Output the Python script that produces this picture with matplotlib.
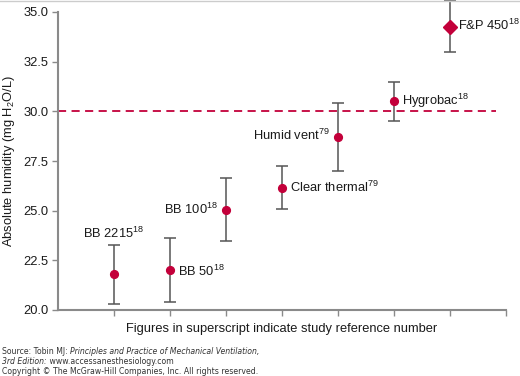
import matplotlib
matplotlib.use("Agg")
import matplotlib.pyplot as plt
from matplotlib.lines import Line2D
from matplotlib.transforms import offset_copy

plt.rcParams['font.family'] = ['Liberation Sans', 'DejaVu Sans']
plt.rcParams['mathtext.fontset'] = 'custom'
plt.rcParams['mathtext.rm'] = 'Liberation Sans'
plt.rcParams['mathtext.it'] = 'Liberation Sans:italic'

# Data
labels = ["BB 2215", "BB 50", "BB 100", "Clear thermal", "Humid vent", "Hygrobac", "F&P 450"]
refs = ["18", "18", "18", "79", "79", "18", "18"]
positions = [1, 2, 3, 4, 5, 6, 7]
means = [21.8, 22.0, 25.05, 26.15, 28.7, 30.5, 34.27]
errors = [1.48, 1.6, 1.6, 1.08, 1.72, 0.98, 1.3]
markers = ["o", "o", "o", "o", "o", "o", "D"]
threshold = 30.0
yticks = [20.0, 22.5, 25.0, 27.5, 30.0, 32.5, 35.0]

RED = "#c3003a"
GREY = "#555555"
SPINE = "#8a8a8a"

fig = plt.figure(figsize=(5.2, 3.76), dpi=100)
ax = fig.add_axes([58/520, 1-310/376, (506-58)/520, (310-12)/376])

ax.axhline(threshold, xmin=0, xmax=7.82/8, color=RED, lw=1.3, ls=(0, (4.5, 3)), zorder=1)

for x, m, e, mk in zip(positions, means, errors, markers):
    ax.errorbar([x], [m], yerr=[e], fmt='none', ecolor=GREY, elinewidth=1.1,
                capsize=4, capthick=1.1, clip_on=False, zorder=2)
    ax.plot([x], [m], marker=mk, color=RED, ms=(7.2 if mk == "D" else 5.6),
            ls='none', clip_on=False, zorder=3)

fs = 9.3
place = [
    (0, 3, 'center', 'bottom'),
    (6, -0.5, 'left', 'center'),
    (-6, 0.5, 'right', 'center'),
    (6, 0.5, 'left', 'center'),
    (-6, 1.5, 'right', 'center'),
    (6, 0.5, 'left', 'center'),
    (6, 0.5, 'left', 'center'),
]
for i, (x, m, e, lab, r) in enumerate(zip(positions, means, errors, labels, refs)):
    dx, dy, ha, va = place[i]
    txt = lab + r"$^{\mathrm{" + r + "}}$"
    y = m + e if i == 0 else m
    ax.annotate(txt, (x, y), xytext=(dx, dy), textcoords='offset points',
                ha=ha, va=va, fontsize=fs, color='#1a1a1a', annotation_clip=False)

ax.set_xlim(0, 8)
ax.set_ylim(20, 35)
ax.set_xticks([1, 2, 3, 4, 5, 6, 7, 8])
ax.set_xticklabels([])
ax.set_yticks(yticks)
ax.set_yticklabels([f"{v:.1f}" for v in yticks], fontsize=fs, color='#1a1a1a')
ax.tick_params(axis='both', direction='out', length=4, width=1, color=SPINE, pad=3)
for s in ['top', 'right']:
    ax.spines[s].set_visible(False)
for s in ['left', 'bottom']:
    ax.spines[s].set_color(SPINE)
    ax.spines[s].set_linewidth(1.5)

ax.set_xlabel("Figures in superscript indicate study reference number", fontsize=fs,
              color='#1a1a1a', labelpad=2.5)
ax.set_ylabel(r"Absolute humidity (mg H$_{\mathrm{2}}$O/L)", fontsize=fs, color='#1a1a1a', labelpad=4)

# figure top border
fig.add_artist(Line2D([0, 1], [0.9985, 0.9985], transform=fig.transFigure, color='#cccccc', lw=1))

ffs = 5.6
fc = '#333333'
renderer = fig.canvas.get_renderer()


def line_parts(y_px, parts):
    x_px = 2.0
    for text, style in parts:
        t = fig.text(x_px / 520, 1 - y_px / 376, text, fontsize=ffs, color=fc,
                     va='center', ha='left', family='DejaVu Sans', style=style)
        bb = t.get_window_extent(renderer=renderer)
        x_px += bb.width


line_parts(351, [("Source: Tobin MJ: ", 'normal'),
                 ("Principles and Practice of Mechanical Ventilation,", 'italic')])
line_parts(361, [("3rd Edition:", 'italic'), (" www.accessanesthesiology.com", 'normal')])
line_parts(371.5, [("Copyright © The McGraw-Hill Companies, Inc. All rights reserved.", 'normal')])

fig.savefig("out.png", dpi=100)
